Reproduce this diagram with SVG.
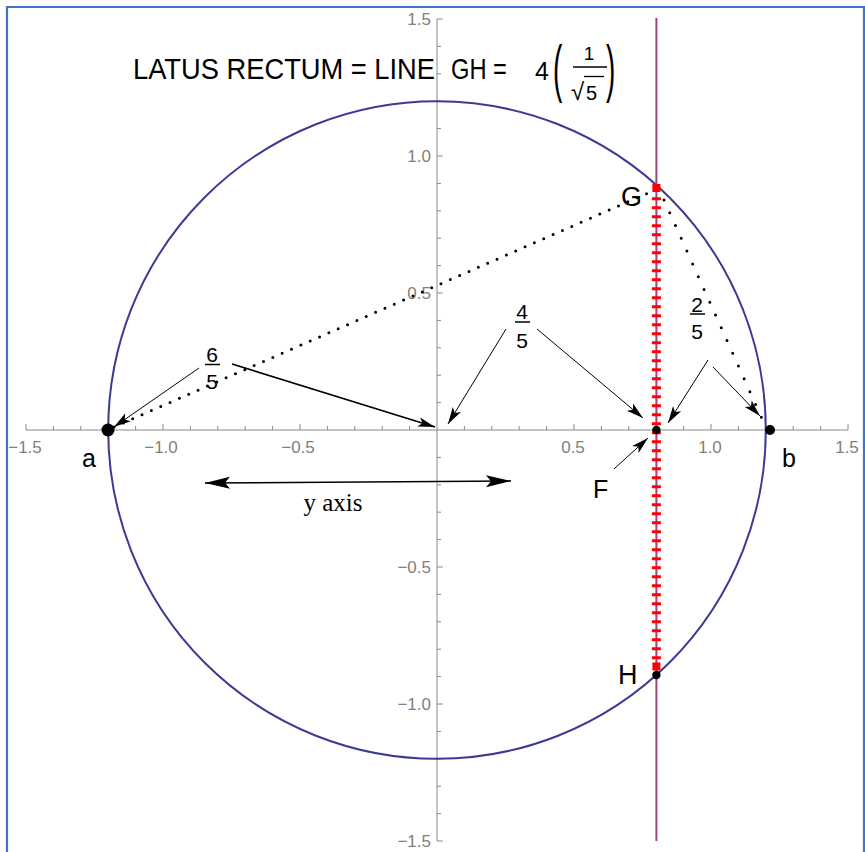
<svg xmlns="http://www.w3.org/2000/svg" width="865" height="852" viewBox="0 0 865 852">
<style>
.ax{stroke:#8a8a8a;stroke-width:1;fill:none}
.tl{font-family:"Liberation Sans",Arial,sans-serif;font-size:17px;fill:#808080}
.lb{font-family:"Liberation Sans",Arial,sans-serif;fill:#000}
.ar{stroke:#000;fill:none;marker-end:url(#ah)}
.dot{stroke:#000;stroke-width:3;stroke-linecap:round;fill:none}
</style>
<defs>
<marker id="ah" viewBox="-18 -6 19 12" refX="0" refY="0" markerWidth="19" markerHeight="12" markerUnits="userSpaceOnUse" orient="auto"><path d="M0,0 L-17,-4.8 L-13,0 L-17,4.8 Z" fill="#000"/></marker>
<marker id="ahb" viewBox="-27 -7 28 14" refX="0" refY="0" markerWidth="28" markerHeight="14" markerUnits="userSpaceOnUse" orient="auto-start-reverse"><path d="M0,0 L-25,-6 L-20,0 L-25,6 Z" fill="#000"/></marker>
</defs>
<rect width="865" height="852" fill="#fff"/>
<path d="M7,852 V7 H864 V852" fill="none" stroke="#4472c4" stroke-width="2.2"/>
<g id="axes">
<path class="ax" d="M26,430 H848 M437,19 V841"/>
<path class="ax" d="M26,430v-6M53.4,430v-4M80.8,430v-4M108.2,430v-4M135.6,430v-4M163,430v-6M190.4,430v-4M217.8,430v-4M245.2,430v-4M272.6,430v-4M300,430v-6M327.4,430v-4M354.8,430v-4M382.2,430v-4M409.6,430v-4M464.4,430v-4M491.8,430v-4M519.2,430v-4M546.6,430v-4M574,430v-6M601.4,430v-4M628.8,430v-4M656.2,430v-4M683.6,430v-4M711,430v-6M738.4,430v-4M765.8,430v-4M793.2,430v-4M820.6,430v-4M848,430v-6"/>
<path class="ax" d="M437,19h6M437,46.4h4M437,73.8h4M437,101.2h4M437,128.6h4M437,156h6M437,183.4h4M437,210.8h4M437,238.2h4M437,265.6h4M437,293h6M437,320.4h4M437,347.8h4M437,375.2h4M437,402.6h4M437,457.4h4M437,484.8h4M437,512.2h4M437,539.6h4M437,567h6M437,594.4h4M437,621.8h4M437,649.2h4M437,676.6h4M437,704h6M437,731.4h4M437,758.8h4M437,786.2h4M437,813.6h4M437,841h6"/>
<g class="tl" text-anchor="middle">
<text x="25" y="453">−1.5</text>
<text x="161" y="453">−1.0</text>
<text x="298" y="453">−0.5</text>
<text x="573" y="453">0.5</text>
<text x="710" y="453">1.0</text>
<text x="847" y="453">1.5</text>
</g>
<g class="tl" text-anchor="end">
<text x="431" y="25">1.5</text>
<text x="431" y="162">1.0</text>
<text x="431" y="299">0.5</text>
<text x="431" y="573">−0.5</text>
<text x="431" y="710">−1.0</text>
<text x="431" y="847">−1.5</text>
</g>
</g>
<circle id="ellipse" cx="437" cy="430" r="328.8" fill="none" stroke="#3b3b96" stroke-width="2"/>
<line id="vline" x1="656.4" y1="18" x2="656.4" y2="841" stroke="#9e4480" stroke-width="2"/>
<g id="latus">
<line x1="656.4" y1="197.3" x2="656.4" y2="660" stroke="#ff0000" stroke-width="9" stroke-dasharray="3 6"/>
<rect x="652.4" y="184" width="8" height="8" fill="#ff0000"/>
<rect x="652.4" y="662.5" width="8" height="8" fill="#ff0000"/>
</g>
<g id="dotted">
<line class="dot" x1="114" y1="427" x2="648" y2="193" stroke-dasharray="0 10.2"/>
<line class="dot" x1="664" y1="200" x2="772" y2="441" stroke-dasharray="0 14"/>
</g>
<g id="a"><circle cx="108" cy="430" r="6.5" fill="#000"/><text class="lb" x="82" y="467" font-size="25">a</text></g>
<g id="b"><circle cx="770" cy="430" r="5" fill="#000"/><text class="lb" x="782" y="467" font-size="25">b</text></g>
<g id="F"><circle cx="656.4" cy="430" r="4.2" fill="#000"/><text class="lb" x="593" y="498" font-size="25">F</text></g>
<g id="G"><text class="lb" x="621" y="206" font-size="27">G</text></g>
<g id="H"><circle cx="656.4" cy="675" r="4.2" fill="#000"/><text class="lb" x="618" y="684" font-size="27">H</text></g>
<g id="connectors">
<line class="ar" x1="199" y1="368" x2="114" y2="427" stroke-width="1"/>
<line class="ar" x1="232" y1="364" x2="435" y2="427" stroke-width="1.7"/>
<line class="ar" x1="506" y1="329" x2="448" y2="424" stroke-width="1"/>
<line class="ar" x1="537" y1="329" x2="643" y2="418" stroke-width="1"/>
<line class="ar" x1="708" y1="360" x2="668" y2="423" stroke-width="1"/>
<line class="ar" x1="713" y1="367" x2="760" y2="416" stroke-width="1"/>
<line class="ar" x1="614" y1="469" x2="648" y2="438" stroke-width="1"/>
<line x1="205" y1="483" x2="511" y2="481" stroke="#000" stroke-width="1.5" marker-start="url(#ahb)" marker-end="url(#ahb)"/>
</g>
<g id="frac65" class="lb" font-size="21" text-anchor="middle">
<text x="212" y="362">6</text><line x1="205" y1="364.5" x2="220" y2="364.5" stroke="#000" stroke-width="1.5"/><text x="212" y="389">5</text>
</g>
<g id="frac45" class="lb" font-size="21" text-anchor="middle">
<text x="522" y="319">4</text><line x1="515" y1="322" x2="530" y2="322" stroke="#000" stroke-width="1.5"/><text x="522" y="348">5</text>
</g>
<g id="frac25" class="lb" font-size="21" text-anchor="middle">
<text x="697" y="312">2</text><line x1="690" y1="314" x2="705" y2="314" stroke="#000" stroke-width="1.5"/><text x="697" y="339">5</text>
</g>
<text x="333" y="511" font-size="25" text-anchor="middle" fill="#000" style="font-family:'Liberation Serif','Times New Roman',serif">y axis</text>
<g id="title" class="lb" font-size="30">
<text transform="translate(133,79) scale(0.91,1)">LATUS RECTUM = LINE</text>
<text transform="translate(451,79) scale(0.79,1)">GH =</text>
<text x="535" y="80" font-size="25">4</text>
<text transform="translate(553,90) scale(1,2.25)" font-size="28">(</text>
<text transform="translate(606,90) scale(1,2.25)" font-size="28">)</text>
<text x="589" y="60" font-size="19" text-anchor="middle">1</text>
<line x1="573" y1="67" x2="607" y2="67" stroke="#000" stroke-width="1.3"/>
<text x="571" y="100" font-size="24">√</text>
<line x1="584" y1="76.5" x2="604" y2="76.5" stroke="#000" stroke-width="1.3"/>
<text x="586" y="100" font-size="20">5</text>
</g>
</svg>
